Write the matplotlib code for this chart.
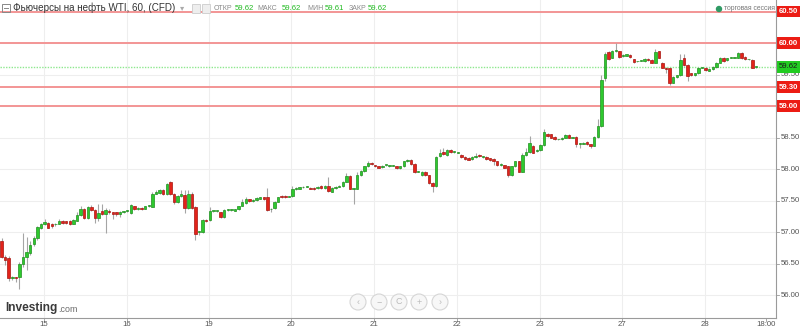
import numpy as np
import matplotlib
matplotlib.use('Agg')
import matplotlib.pyplot as plt
from matplotlib.patches import Ellipse, Rectangle
from matplotlib.transforms import blended_transform_factory

plt.rcParams['font.family'] = ['Liberation Sans', 'DejaVu Sans']

# hourly WTI candles
opens = [56.86, 56.61, 56.59, 56.27, 56.28, 56.28, 56.50, 56.60, 56.67, 56.81,
         56.90, 57.07, 57.13, 57.14, 57.13, 57.12, 57.13, 57.18, 57.17, 57.18,
         57.13, 57.18, 57.27, 57.36, 57.22, 57.40, 57.35, 57.22, 57.33, 57.28,
         57.34, 57.31, 57.31, 57.28, 57.32, 57.33, 57.30, 57.41, 57.36, 57.38,
         57.37, 57.41, 57.40, 57.61, 57.62, 57.67, 57.60, 57.80, 57.61, 57.48,
         57.57, 57.59, 57.38, 57.60, 57.40, 57.00, 57.00, 57.19, 57.19, 57.33,
         57.33, 57.31, 57.24, 57.35, 57.35, 57.34, 57.36, 57.42, 57.46, 57.52,
         57.50, 57.51, 57.53, 57.55, 57.55, 57.36, 57.38, 57.48, 57.57, 57.57,
         57.56, 57.57, 57.68, 57.69, 57.71, 57.72, 57.70, 57.70, 57.70, 57.73,
         57.70, 57.73, 57.64, 57.70, 57.72, 57.73, 57.80, 57.89, 57.69, 57.69,
         57.90, 57.97, 58.04, 58.10, 58.06, 58.04, 58.03, 58.06, 58.04, 58.05,
         58.04, 58.01, 58.04, 58.12, 58.15, 58.08, 57.96, 57.90, 57.96, 57.90,
         57.78, 57.73, 58.20, 58.27, 58.22, 58.30, 58.27, 58.26, 58.23, 58.19,
         58.18, 58.16, 58.19, 58.23, 58.19, 58.19, 58.17, 58.16, 58.12, 58.06,
         58.06, 58.04, 57.90, 58.04, 58.12, 57.96, 58.22, 58.27, 58.37, 58.28,
         58.30, 58.38, 58.56, 58.55, 58.51, 58.47, 58.47, 58.50, 58.54, 58.50,
         58.51, 58.40, 58.40, 58.43, 58.39, 58.37, 58.51, 58.68, 59.44, 59.86,
         59.77, 59.87, 59.87, 59.79, 59.80, 59.81, 59.74, 59.71, 59.72, 59.71,
         59.75, 59.73, 59.69, 59.87, 59.69, 59.60, 59.60, 59.37, 59.46, 59.49,
         59.76, 59.65, 59.52, 59.49, 59.52, 59.61, 59.61, 59.56, 59.58, 59.62,
         59.69, 59.77, 59.73, 59.77, 59.77, 59.77, 59.84, 59.78, 59.74, 59.73,
         59.62]
closes = [56.61, 56.56, 56.27, 56.28, 56.27, 56.50, 56.61, 56.69, 56.80, 56.90,
          57.08, 57.13, 57.16, 57.07, 57.09, 57.13, 57.18, 57.14, 57.14, 57.13,
          57.19, 57.27, 57.36, 57.22, 57.39, 57.35, 57.22, 57.30, 57.28, 57.35,
          57.31, 57.29, 57.28, 57.31, 57.32, 57.33, 57.43, 57.36, 57.38, 57.36,
          57.41, 57.41, 57.61, 57.63, 57.66, 57.60, 57.77, 57.60, 57.48, 57.57,
          57.60, 57.38, 57.60, 57.38, 56.97, 57.00, 57.19, 57.18, 57.34, 57.33,
          57.33, 57.24, 57.35, 57.35, 57.35, 57.36, 57.41, 57.48, 57.52, 57.49,
          57.50, 57.54, 57.55, 57.52, 57.35, 57.37, 57.48, 57.55, 57.55, 57.55,
          57.56, 57.68, 57.70, 57.71, 57.72, 57.72, 57.69, 57.68, 57.72, 57.70,
          57.73, 57.65, 57.70, 57.72, 57.73, 57.80, 57.89, 57.69, 57.69, 57.90,
          57.97, 58.04, 58.10, 58.08, 58.04, 58.02, 58.05, 58.06, 58.06, 58.05,
          58.01, 58.04, 58.12, 58.15, 58.08, 57.96, 57.96, 57.96, 57.90, 57.78,
          57.73, 58.19, 58.25, 58.24, 58.30, 58.27, 58.27, 58.26, 58.19, 58.16,
          58.15, 58.19, 58.21, 58.20, 58.19, 58.16, 58.14, 58.12, 58.06, 58.08,
          58.02, 57.90, 58.04, 58.12, 57.96, 58.22, 58.27, 58.41, 58.26, 58.30,
          58.38, 58.59, 58.52, 58.50, 58.47, 58.47, 58.50, 58.54, 58.50, 58.50,
          58.40, 58.40, 58.42, 58.39, 58.37, 58.51, 58.68, 59.41, 59.83, 59.74,
          59.87, 59.87, 59.78, 59.81, 59.82, 59.78, 59.70, 59.71, 59.72, 59.75,
          59.73, 59.69, 59.86, 59.77, 59.61, 59.58, 59.36, 59.46, 59.49, 59.73,
          59.65, 59.48, 59.49, 59.52, 59.61, 59.61, 59.57, 59.59, 59.62, 59.69,
          59.77, 59.71, 59.76, 59.77, 59.77, 59.84, 59.76, 59.74, 59.74, 59.61,
          59.62]
highs = [56.90, 56.63, 56.62, 56.30, 56.29, 56.52, 56.99, 56.92, 56.85, 56.94,
         57.10, 57.15, 57.21, 57.16, 57.14, 57.15, 57.20, 57.19, 57.18, 57.19,
         57.21, 57.32, 57.42, 57.38, 57.41, 57.43, 57.36, 57.45, 57.44, 57.38,
         57.36, 57.32, 57.32, 57.33, 57.34, 57.35, 57.45, 57.42, 57.39, 57.39,
         57.42, 57.43, 57.64, 57.67, 57.68, 57.69, 57.78, 57.81, 57.62, 57.58,
         57.66, 57.66, 57.66, 57.64, 57.41, 57.02, 57.20, 57.20, 57.40, 57.34,
         57.34, 57.32, 57.36, 57.36, 57.36, 57.37, 57.42, 57.52, 57.55, 57.53,
         57.52, 57.55, 57.56, 57.56, 57.70, 57.38, 57.49, 57.56, 57.58, 57.58,
         57.57, 57.73, 57.71, 57.72, 57.73, 57.73, 57.71, 57.71, 57.73, 57.74,
         57.74, 57.88, 57.71, 57.73, 57.74, 57.81, 57.93, 57.90, 57.70, 57.96,
         57.98, 58.05, 58.12, 58.11, 58.07, 58.05, 58.06, 58.07, 58.07, 58.06,
         58.05, 58.05, 58.13, 58.16, 58.16, 58.09, 57.97, 57.97, 57.97, 57.91,
         57.79, 58.21, 58.32, 58.34, 58.31, 58.31, 58.28, 58.27, 58.24, 58.20,
         58.19, 58.20, 58.25, 58.24, 58.20, 58.20, 58.18, 58.17, 58.13, 58.09,
         58.07, 58.05, 58.05, 58.13, 58.13, 58.25, 58.34, 58.52, 58.38, 58.31,
         58.39, 58.63, 58.57, 58.56, 58.52, 58.48, 58.51, 58.55, 58.55, 58.51,
         58.52, 58.41, 58.43, 58.44, 58.40, 58.52, 58.80, 59.50, 59.85, 59.88,
         59.89, 60.00, 59.88, 59.82, 59.83, 59.82, 59.75, 59.72, 59.73, 59.76,
         59.76, 59.74, 59.90, 59.88, 59.70, 59.62, 59.61, 59.47, 59.50, 59.82,
         59.82, 59.66, 59.53, 59.53, 59.62, 59.62, 59.62, 59.60, 59.63, 59.70,
         59.78, 59.78, 59.77, 59.78, 59.78, 59.85, 59.85, 59.79, 59.75, 59.74,
         59.62]
lows = [56.58, 56.48, 56.22, 56.24, 56.20, 56.10, 56.45, 56.40, 56.63, 56.78,
        56.88, 57.04, 57.11, 57.06, 57.07, 57.10, 57.12, 57.12, 57.13, 57.11,
        57.12, 57.17, 57.26, 57.20, 57.21, 57.34, 57.15, 57.18, 57.27, 56.98,
        57.29, 57.20, 57.26, 57.24, 57.30, 57.31, 57.29, 57.35, 57.35, 57.35,
        57.36, 57.39, 57.39, 57.60, 57.61, 57.59, 57.59, 57.58, 57.45, 57.46,
        57.56, 57.30, 57.37, 57.37, 56.87, 56.95, 56.99, 57.16, 57.18, 57.31,
        57.32, 57.22, 57.23, 57.33, 57.34, 57.33, 57.35, 57.41, 57.45, 57.47,
        57.48, 57.50, 57.52, 57.51, 57.33, 57.31, 57.37, 57.47, 57.54, 57.54,
        57.55, 57.56, 57.67, 57.68, 57.70, 57.71, 57.68, 57.67, 57.69, 57.69,
        57.69, 57.64, 57.63, 57.69, 57.71, 57.72, 57.79, 57.68, 57.44, 57.68,
        57.89, 57.96, 58.03, 58.07, 58.03, 58.01, 58.02, 58.05, 58.03, 58.04,
        58.00, 58.00, 58.03, 58.11, 58.07, 57.94, 57.95, 57.89, 57.89, 57.76,
        57.64, 57.72, 58.19, 58.23, 58.21, 58.26, 58.26, 58.25, 58.18, 58.15,
        58.14, 58.15, 58.18, 58.19, 58.18, 58.15, 58.13, 58.07, 58.05, 58.05,
        58.01, 57.88, 57.89, 58.03, 57.95, 57.95, 58.21, 58.26, 58.25, 58.27,
        58.29, 58.37, 58.51, 58.49, 58.46, 58.46, 58.46, 58.49, 58.49, 58.49,
        58.35, 58.34, 58.39, 58.38, 58.33, 58.36, 58.50, 58.67, 59.40, 59.73,
        59.76, 59.86, 59.77, 59.78, 59.79, 59.77, 59.69, 59.70, 59.71, 59.70,
        59.72, 59.68, 59.68, 59.76, 59.60, 59.53, 59.33, 59.36, 59.45, 59.48,
        59.64, 59.40, 59.48, 59.48, 59.51, 59.60, 59.56, 59.55, 59.57, 59.61,
        59.68, 59.70, 59.72, 59.76, 59.76, 59.76, 59.75, 59.73, 59.73, 59.60,
        59.61]

day_labels = ['15', '16', '19', '20', '21', '22', '23', '27', '28', '18:00']
day_pos = [11.8, 34.9, 57.8, 80.6, 103.7, 126.8, 149.9, 172.7, 195.8, 212.8]

price_ticks = [59.50, 58.50, 58.00, 57.50, 57.00, 56.50, 56.00]
red_levels = [60.50, 60.00, 59.30, 59.00]
last_price = 59.62

header_title = 'Фьючерсы на нефть WTI, 60, (CFD)'
ohlc_names = ['ОТКР', 'МАКС', 'МИН', 'ЗАКР']
ohlc_vals = ['59.62', '59.62', '59.61', '59.62']

W, H = 800, 329
fig = plt.figure(figsize=(W / 100, H / 100), dpi=100)
ax = fig.add_axes([0, 1 - 318 / H, 776 / W, 318 / H])
ax.set_xlim(-0.42, 215.6)
ax.set_ylim(55.635, 60.683)
for s in ax.spines.values():
    s.set_visible(False)
ax.set_xticks([])
ax.set_yticks([])

# grid
for p in day_pos[:-1]:
    ax.axvline(p, color='#eeeeee', lw=0.8, zorder=0)
for g in np.arange(56.0, 60.51, 0.5):
    ax.axhline(g, color='#eeeeee', lw=0.8, zorder=0)

# level lines
for lv in red_levels:
    ax.axhline(lv, color='#f39595', lw=1.4, zorder=1)
ax.axhline(last_price, color='#8ee88e', lw=1.0, ls=(0, (1, 1)), zorder=1)

# candles
o = np.array(opens)
c = np.array(closes)
h = np.array(highs)
l = np.array(lows)
idx = np.arange(len(o))
up = c >= o
ax.vlines(idx, l, h, color='#a5a5a5', lw=0.8, zorder=2)
bottom = np.minimum(o, c)
height = np.maximum(np.abs(c - o), 0.012)
ax.bar(idx[up], height[up], bottom=bottom[up], width=0.68,
       color='#2ec92e', edgecolor='#1f8f1f', lw=0.5, zorder=3)
ax.bar(idx[~up], height[~up], bottom=bottom[~up], width=0.68,
       color='#e2231a', edgecolor='#a81510', lw=0.5, zorder=3)

# right price axis
fig.add_artist(plt.Line2D([776 / W, 776 / W], [1 - 318 / H, 1], color='#9a9a9a', lw=0.8))
fig.add_artist(plt.Line2D([0, 776 / W], [1 - 318 / H, 1 - 318 / H], color='#9a9a9a', lw=0.8))
tr = blended_transform_factory(ax.transAxes, ax.transData)
for p in price_ticks:
    ax.plot([1.0, 1.004], [p, p], color='#9a9a9a', lw=0.6, transform=tr, clip_on=False)
    ax.text(1.006, p, f'{p:.2f}', transform=tr, ha='left', va='center',
            fontsize=5.6, color='#555555', clip_on=False)
for lv in red_levels:
    ax.text(1.003, lv, f'{lv:.2f}', transform=tr, ha='left', va='center',
            fontsize=5.6, color='white', fontweight='bold', clip_on=False,
            bbox=dict(boxstyle='square,pad=0.3', fc='#ec1c14', ec='none'))
ax.text(1.003, last_price, f'{last_price:.2f}', transform=tr, ha='left', va='center',
        fontsize=5.6, color='#1a1a1a', clip_on=False,
        bbox=dict(boxstyle='square,pad=0.3', fc='#22cc22', ec='none'))

# date labels
for p, lab in zip(day_pos, day_labels):
    xf = ax.transData.transform((p, 0))[0] / W
    fig.text(xf, 1 - 325 / H, lab, ha='center', va='center', fontsize=5.6, color='#555555')
    fig.add_artist(plt.Line2D([xf, xf], [1 - 318 / H, 1 - 320.5 / H], color='#9a9a9a', lw=0.6))

# header
fig.add_artist(Rectangle((2 / W, 1 - 12 / H), 8 / W, 8 / H, fill=False, ec='#888888', lw=0.7))
fig.add_artist(plt.Line2D([4 / W, 8 / W], [1 - 8 / H, 1 - 8 / H], color='#888888', lw=0.7))
fig.text(13 / W, 1 - 8 / H, header_title, ha='left', va='center', fontsize=7.15, color='#333333')
fig.text(180 / W, 1 - 8 / H, '▾', ha='left', va='center', fontsize=6, color='#aaaaaa',
         family=['DejaVu Sans'])
for gx in (192, 202):
    fig.add_artist(Rectangle((gx / W, 1 - 13 / H), 8 / W, 9 / H, fc='#eeeeee', ec='#cccccc', lw=0.6))
name_x = [214, 257, 307, 349]
val_x = [235, 282, 325, 368]
for nx, vx, nm, vv in zip(name_x, val_x, ohlc_names, ohlc_vals):
    fig.text(nx / W, 1 - 8 / H, nm, ha='left', va='center', fontsize=5.0, color='#888888')
    fig.text(vx / W, 1 - 8 / H, vv, ha='left', va='center', fontsize=5.6, color='#22bb22')

fig.add_artist(Ellipse((719 / W, 1 - 9 / H), 5 / W, 5 / H, color='#2f9a64'))
fig.text(724 / W, 1 - 9 / H, 'торговая сессия', ha='left', va='center', fontsize=4.9, color='#777777')

# logo
fig.text(5 / W, 1 - 308 / H, 'Investing', ha='left', va='center', fontsize=8.6,
         fontweight='bold', color='#3a3a3a')
fig.text(58 / W, 1 - 309 / H, '.com', ha='left', va='center', fontsize=6.4, color='#6a6a6a')

# navigation buttons
for bx, sym in zip([358, 379, 399, 419, 440], ['‹', '−', 'C', '+', '›']):
    fig.add_artist(Ellipse((bx / W, 1 - 302 / H), 16 / W, 16 / H, fc='#f7f7f7', ec='#d6d6d6', lw=0.8))
    fig.text(bx / W, 1 - 302 / H, sym, ha='center', va='center', fontsize=6.5, color='#bbbbbb')

fig.savefig('out.png', dpi=100)
